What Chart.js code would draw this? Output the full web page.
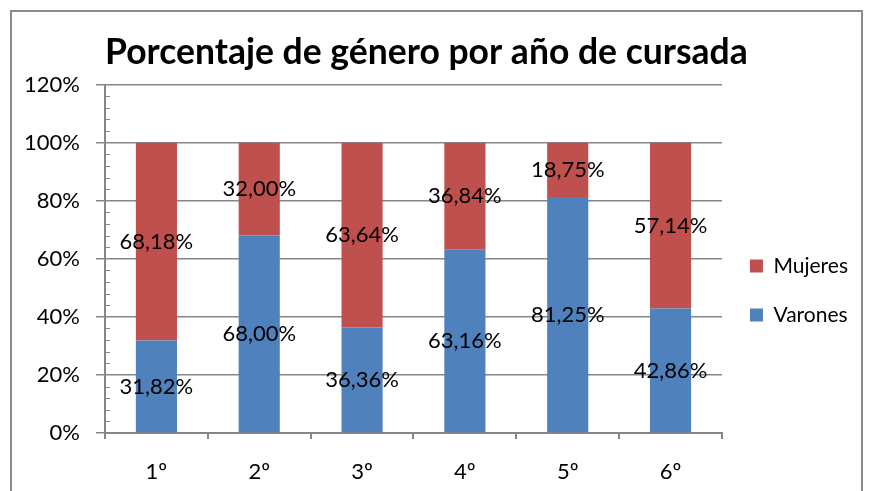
<!DOCTYPE html>
<html>
<head>
<meta charset="utf-8">
<script src="https://cdn.jsdelivr.net/npm/chart.js@4"></script>
<style>
  html, body { margin: 0; padding: 0; background: #fff; }
  #wrap { width: 870px; height: 491px; }
</style>
</head>
<body>
<div id="wrap"><canvas id="c" width="870" height="491"></canvas></div>
<script>
const categories = ['1º', '2º', '3º', '4º', '5º', '6º'];
const varones = [31.82, 68.00, 36.36, 63.16, 81.25, 42.86];
const mujeres = [68.18, 32.00, 63.64, 36.84, 18.75, 57.14];
const yTicks = [0, 20, 40, 60, 80, 100, 120];
const titleText = 'Porcentaje de género por año de cursada';

const GRAY = '#868686';
const FONT = 'Lato, "Liberation Sans", sans-serif';

const fmt = v => v.toFixed(2).replace('.', ',') + '%';

const dataLabels = {
  id: 'dataLabels',
  afterDatasetsDraw(chart) {
    const ctx = chart.ctx;
    ctx.save();
    ctx.font = '22px ' + FONT;
    ctx.fillStyle = '#000';
    ctx.textAlign = 'center';
    ctx.textBaseline = 'middle';
    chart.data.datasets.forEach((ds, i) => {
      const meta = chart.getDatasetMeta(i);
      meta.data.forEach((bar, j) => {
        const p = bar.getCenterPoint();
        ctx.fillText(fmt(ds.data[j]), p.x, p.y);
      });
    });
    ctx.restore();
  }
};

const minorTicks = {
  id: 'minorTicks',
  afterDraw(chart) {
    const y = chart.scales.y;
    const ctx = chart.ctx;
    ctx.save();
    ctx.strokeStyle = GRAY;
    ctx.lineWidth = 1;
    for (let v = y.min; v <= y.max; v += 4) {
      if (v % 20 === 0) continue;
      const py = Math.round(y.getPixelForValue(v)) + 0.5;
      ctx.beginPath();
      ctx.moveTo(y.right, py);
      ctx.lineTo(y.right + 5, py);
      ctx.stroke();
    }
    ctx.restore();
  }
};

const frame = {
  id: 'frame',
  afterDraw(chart) {
    const ctx = chart.ctx;
    ctx.save();
    ctx.strokeStyle = '#8c8c8c';
    ctx.lineWidth = 2;
    ctx.strokeRect(11, 11, 851, 500);
    ctx.restore();
  }
};

// let the title start at the plot's left edge while not being squeezed to the plot width
const titleBox = {
  id: 'titleBox',
  afterLayout(chart) {
    const tb = chart.titleBlock;
    if (tb) {
      tb.left = chart.chartArea.left;
      tb.right = chart.chartArea.left + 720;
      tb.width = 720;
    }
  }
};

new Chart(document.getElementById('c'), {
  type: 'bar',
  data: {
    labels: categories,
    datasets: [
      { label: 'Varones', data: varones, backgroundColor: '#4F81BD', borderWidth: 0 },
      { label: 'Mujeres', data: mujeres, backgroundColor: '#C0504D', borderWidth: 0 }
    ]
  },
  options: {
    responsive: false,
    animation: false,
    devicePixelRatio: 1,
    layout: { padding: { left: 12, right: 12, top: 0, bottom: 0 } },
    datasets: { bar: { categoryPercentage: 1, barPercentage: 0.4 } },
    plugins: {
      tooltip: { enabled: false },
      title: {
        display: true,
        text: titleText,
        align: 'start',
        fullSize: false,
        color: '#000',
        font: { family: FONT, size: 35.5, weight: 'bold', lineHeight: 1.2 },
        padding: { top: 31, bottom: 11 }
      },
      legend: {
        display: true,
        position: 'right',
        reverse: true,
        fullSize: false,
        title: { display: true, text: ' ', font: { size: 12, lineHeight: 1.2 }, padding: { top: 49, bottom: 0 } },
        labels: {
          boxWidth: 13,
          boxHeight: 13,
          padding: 28,
          color: '#000',
          font: { family: FONT, size: 21 }
        }
      }
    },
    scales: {
      x: {
        stacked: true,
        grid: { display: true, drawOnChartArea: false, drawTicks: true, tickLength: 6, color: GRAY, lineWidth: 2, offset: true },
        border: { display: true, color: GRAY, width: 2 },
        ticks: { color: '#000', font: { family: FONT, size: 22 }, padding: 20 },
        afterFit(s) { s.height = 58; }
      },
      y: {
        stacked: true,
        min: 0,
        max: 120,
        afterBuildTicks(s) { s.ticks = yTicks.map(v => ({ value: v })); },
        grid: { color: GRAY, lineWidth: 1.5, tickLength: 9 },
        border: { display: true, color: GRAY, width: 2 },
        ticks: { color: '#000', font: { family: FONT, size: 22 }, padding: 16, callback: v => v + '%' },
        afterFit(s) { s.width = 93; }
      }
    }
  },
  plugins: [titleBox, dataLabels, minorTicks, frame]
});
</script>
</body>
</html>
